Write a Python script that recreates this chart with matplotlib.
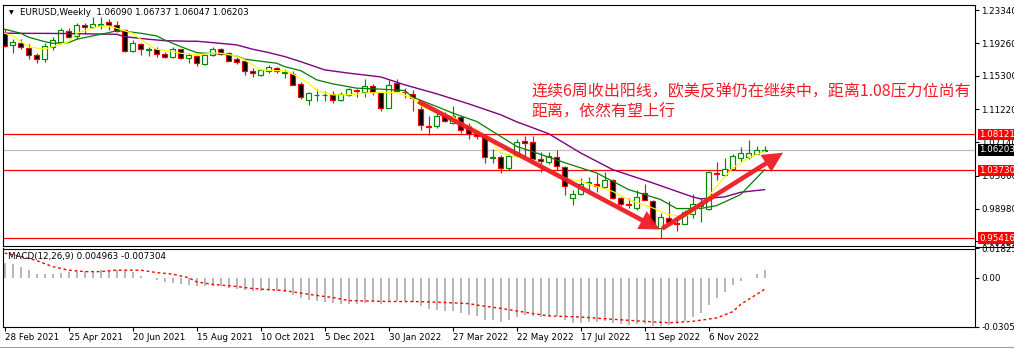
import matplotlib
matplotlib.use("Agg")
import matplotlib.pyplot as plt
from matplotlib.patches import Rectangle
from matplotlib.lines import Line2D

plt.rcParams['font.family'] = ['DejaVu Sans']

# weekly EURUSD candles, index 0 = week of 28 Feb 2021
opens = [1.2058, 1.1904, 1.1936, 1.1867, 1.1782, 1.1740, 1.1880, 1.1944, 1.2079, 1.2018,
         1.2152, 1.2124, 1.2156, 1.2189, 1.2148, 1.2091, 1.1834, 1.1920, 1.1847, 1.1855,
         1.1798, 1.1757, 1.1855, 1.1749, 1.1773, 1.1675, 1.1789, 1.1862, 1.1806, 1.1733,
         1.1708, 1.1593, 1.1537, 1.1586, 1.1626, 1.1569, 1.1553, 1.1431, 1.1227, 1.1293,
         1.1293, 1.1309, 1.1227, 1.1293, 1.1358, 1.1333, 1.1406, 1.1325, 1.1129, 1.1447,
         1.1333, 1.1309, 1.1122, 1.0909, 1.0909, 1.1048, 1.0950, 1.1024, 1.0917, 1.0811,
         1.0787, 1.0526, 1.0535, 1.0395, 1.0542, 1.0730, 1.0713, 1.0510, 1.0469, 1.0535,
         1.0413, 1.0037, 1.0086, 1.0217, 1.0200, 1.0168, 1.0257, 1.0029, 0.9964, 0.9906,
         1.0095, 0.9997, 0.9662, 0.9784, 0.9728, 0.9719, 0.9833, 0.9931, 0.9899, 1.0339,
         1.0315, 1.0388, 1.0526, 1.0535, 1.0575, 1.06090]
highs = [1.2100, 1.1977, 1.1977, 1.1920, 1.1814, 1.1936, 1.2002, 1.2115, 1.2115, 1.2173,
         1.2173, 1.2254, 1.2246, 1.2229, 1.2197, 1.2100, 1.1969, 1.1936, 1.1880, 1.1880,
         1.1822, 1.1880, 1.1862, 1.1806, 1.1789, 1.1798, 1.1887, 1.1871, 1.1822, 1.1757,
         1.1724, 1.1626, 1.1618, 1.1659, 1.1642, 1.1618, 1.1593, 1.1455, 1.1325, 1.1366,
         1.1342, 1.1349, 1.1333, 1.1382, 1.1373, 1.1488, 1.1431, 1.1333, 1.1480, 1.1495,
         1.1382, 1.1358, 1.1211, 1.1031, 1.1073, 1.1080, 1.1162, 1.1031, 1.0950, 1.0860,
         1.0811, 1.0633, 1.0559, 1.0567, 1.0755, 1.0787, 1.0787, 1.0600, 1.0591, 1.0616,
         1.0428, 1.0126, 1.0273, 1.0290, 1.0322, 1.0355, 1.0266, 1.0046, 1.0029, 1.0126,
         1.0208, 1.0013, 0.9850, 0.9997, 0.9784, 0.9882, 1.0086, 1.0029, 1.0364, 1.0477,
         1.0518, 1.0575, 1.0657, 1.0738, 1.0664, 1.06737]
lows = [1.1887, 1.1814, 1.1855, 1.1740, 1.1691, 1.1700, 1.1847, 1.1936, 1.1993, 1.1977,
        1.2042, 1.2115, 1.2107, 1.2091, 1.2067, 1.1822, 1.1822, 1.1789, 1.1773, 1.1757,
        1.1749, 1.1749, 1.1740, 1.1691, 1.1651, 1.1667, 1.1773, 1.1782, 1.1708, 1.1675,
        1.1545, 1.1513, 1.1529, 1.1562, 1.1569, 1.1504, 1.1415, 1.1244, 1.1170, 1.1219,
        1.1219, 1.1202, 1.1219, 1.1276, 1.1268, 1.1268, 1.1300, 1.1104, 1.1129, 1.1325,
        1.1260, 1.1097, 1.0869, 1.0804, 1.0893, 1.0966, 1.0933, 1.0828, 1.0755, 1.0755,
        1.0462, 1.0462, 1.0339, 1.0371, 1.0535, 1.0551, 1.0493, 1.0347, 1.0453, 1.0371,
        1.0070, 0.9948, 1.0070, 1.0135, 1.0111, 1.0151, 1.0021, 0.9939, 0.9906, 0.9882,
        1.0004, 0.9679, 0.9540, 0.9703, 0.9630, 0.9711, 0.9784, 0.9735, 0.9891, 1.0257,
        1.0298, 1.0371, 1.0477, 1.0510, 1.0567, 1.06047]
closes = [1.1895, 1.1944, 1.1887, 1.1782, 1.1740, 1.1895, 1.1969, 1.2091, 1.2002, 1.2156,
          1.2124, 1.2164, 1.2164, 1.2148, 1.2079, 1.1838, 1.1928, 1.1855, 1.1862, 1.1798,
          1.1765, 1.1855, 1.1749, 1.1782, 1.1684, 1.1789, 1.1862, 1.1798, 1.1716, 1.1700,
          1.1593, 1.1569, 1.1602, 1.1642, 1.1586, 1.1578, 1.1422, 1.1268, 1.1317, 1.1300,
          1.1300, 1.1227, 1.1309, 1.1373, 1.1342, 1.1406, 1.1325, 1.1129, 1.1422, 1.1349,
          1.1325, 1.1260, 1.0926, 1.0902, 1.1040, 1.0975, 1.1031, 1.0860, 1.0820, 1.0795,
          1.0535, 1.0535, 1.0395, 1.0542, 1.0713, 1.0706, 1.0510, 1.0486, 1.0551, 1.0428,
          1.0184, 1.0078, 1.0208, 1.0224, 1.0175, 1.0257, 1.0029, 0.9964, 0.9948, 1.0046,
          1.0013, 0.9719, 0.9801, 0.9744, 0.9711, 0.9866, 0.9964, 0.9948, 1.0355, 1.0322,
          1.0388, 1.0542, 1.0584, 1.0584, 1.0616, 1.06203]

# moving averages (bar index, price)
fast_idx = [0, 1, 3, 5, 6, 8, 9, 11, 12, 13, 14, 16, 17, 18, 19, 21, 22, 23, 24, 26, 27, 29, 30,
            31, 32, 34, 35, 36, 38, 39, 41, 43, 45, 47, 49, 51, 52, 54, 56, 57, 59, 61, 62, 64,
            66, 68, 70, 72, 74, 76, 78, 81, 83, 85, 87, 89, 91, 93, 95]
fast_ma = [1.2051, 1.2018, 1.1887, 1.1855, 1.1887, 1.1948, 1.2051, 1.2112, 1.2140, 1.2140,
           1.2112, 1.2051, 1.1977, 1.1908, 1.1855, 1.1826, 1.1806, 1.1798, 1.1785, 1.1806,
           1.1806, 1.1773, 1.1724, 1.1663, 1.1602, 1.1593, 1.1593, 1.1553, 1.1439, 1.1349,
           1.1296, 1.1296, 1.1317, 1.1325, 1.1325, 1.1256, 1.1162, 1.1073, 1.1031, 1.0958,
           1.0869, 1.0706, 1.0584, 1.0535, 1.0502, 1.0380, 1.0278, 1.0237, 1.0175, 1.0114,
           1.0013, 0.9911, 0.9829, 0.9801, 0.9931, 1.0175, 1.0400, 1.0523, 1.0603]
mid_idx = [0, 2, 3, 5, 6, 8, 9, 11, 13, 14, 15, 17, 19, 20, 22, 24, 25, 27, 29, 30, 32, 34,
           35, 37, 39, 41, 44, 47, 50, 51, 54, 56, 59, 61, 64, 66, 70, 74, 78, 82, 84, 87,
           89, 92, 95]
mid_ma = [1.2100, 1.2051, 1.2002, 1.1948, 1.1928, 1.1936, 1.1977, 1.2018, 1.2058, 1.2082,
          1.2075, 1.2051, 1.2018, 1.1969, 1.1887, 1.1814, 1.1806, 1.1798, 1.1773, 1.1733,
          1.1708, 1.1684, 1.1642, 1.1593, 1.1480, 1.1431, 1.1378, 1.1366, 1.1349, 1.1268,
          1.1153, 1.1073, 1.0970, 1.0848, 1.0664, 1.0600, 1.0465, 1.0339, 1.0135, 1.0013,
          0.9903, 0.9903, 0.9939, 1.0074, 1.0380]
slow_idx = [0, 7, 14, 15, 18, 20, 23, 24, 26, 29, 31, 33, 35, 37, 40, 43, 47, 50, 54, 58,
            62, 64, 68, 72, 76, 81, 84, 86, 87, 90, 92, 95]
slow_ma = [1.2051, 1.2048, 1.2038, 1.2009, 1.1977, 1.1960, 1.1953, 1.1953, 1.1936, 1.1908,
           1.1855, 1.1814, 1.1765, 1.1703, 1.1602, 1.1562, 1.1516, 1.1419, 1.1309, 1.1186,
           1.1052, 1.0966, 1.0820, 1.0584, 1.0380, 1.0217, 1.0114, 1.0046, 1.0021, 1.0046,
           1.0102, 1.0135]

# MACD(12,26,9): main values per bar and the signal line
macd = [0.0090, 0.0086, 0.0069, 0.0047, 0.0022, 0.0022, 0.0026, 0.0030, 0.0038, 0.0043,
        0.0043, 0.0043, 0.0047, 0.0051, 0.0047, 0.0047, 0.0035, 0.0013, 0.0001, -0.0017,
        -0.0029, -0.0034, -0.0042, -0.0047, -0.0055, -0.0055, -0.0051, -0.0051, -0.0064, -0.0068,
        -0.0077, -0.0085, -0.0085, -0.0081, -0.0085, -0.0090, -0.0106, -0.0128, -0.0141, -0.0145,
        -0.0149, -0.0160, -0.0162, -0.0162, -0.0162, -0.0156, -0.0149, -0.0162, -0.0149, -0.0143,
        -0.0143, -0.0149, -0.0175, -0.0194, -0.0201, -0.0207, -0.0207, -0.0220, -0.0233, -0.0239,
        -0.0265, -0.0265, -0.0278, -0.0265, -0.0246, -0.0233, -0.0239, -0.0246, -0.0239, -0.0239,
        -0.0265, -0.0284, -0.0284, -0.0278, -0.0278, -0.0271, -0.0284, -0.0290, -0.0297, -0.0290,
        -0.0290, -0.0303, -0.0305, -0.0297, -0.0290, -0.0271, -0.0246, -0.0220, -0.0169, -0.0130,
        -0.0092, -0.0047, -0.0021, -0.0002, 0.0024, 0.004963]
signal_idx = [0, 2, 4, 6, 8, 10, 12, 14, 17, 19, 21, 23, 24, 26, 29, 31, 33, 35, 37, 39, 41,
              43, 48, 51, 54, 58, 59, 62, 66, 68, 72, 76, 80, 83, 86, 89, 91, 92, 95]
signal = [0.0154, 0.0133, 0.0107, 0.0069, 0.0047, 0.0038, 0.0038, 0.0047, 0.0047, 0.0032,
          0.0022, 0.0000, -0.0026, -0.0042, -0.0055, -0.0068, -0.0074, -0.0081, -0.0096,
          -0.0111, -0.0124, -0.0143, -0.0149, -0.0149, -0.0153, -0.0162, -0.0171, -0.0192,
          -0.0224, -0.0239, -0.0246, -0.0260, -0.0273, -0.0282, -0.0273, -0.0252, -0.0213,
          -0.0167, -0.007304]

date_idx = [0, 8, 16, 24, 32, 40, 48, 56, 64, 72, 80, 88]
date_labels = ['28 Feb 2021', '25 Apr 2021', '20 Jun 2021', '15 Aug 2021', '10 Oct 2021',
               '5 Dec 2021', '30 Jan 2022', '27 Mar 2022', '22 May 2022', '17 Jul 2022',
               '11 Sep 2022', '6 Nov 2022']
price_ticks = [1.23340, 1.19260, 1.15300, 1.11220, 1.07140, 1.03060, 0.98980, 0.95020]
levels = [1.08121, 1.03730, 0.95416]
last_price = 1.06203

# hand-drawn arrows (start, tip) in bar index / price
arrow_down = ((51.7, 1.1215), (81.9, 0.9646))
arrow_up = ((82.2, 0.9658), (97.3, 1.0587))

note_line1 = '连续6周收出阳线，欧美反弹仍在继续中，距离1.08压力位尚有'
note_line2 = '距离，依然有望上行'

W, H = 1014, 350
fig = plt.figure(figsize=(W / 100, H / 100), dpi=100)


def px_rect(x0, y0, x1, y1):
    return [x0 / W, 1 - y1 / H, (x1 - x0) / W, (y1 - y0) / H]


ax = fig.add_axes(px_rect(3, 5, 975, 245.5))
mac = fig.add_axes(px_rect(3, 248.5, 975, 326.5))
xlim = (-0.21, 121.3)
fs = 6.3

# candles
body_w = 0.62
for i in range(len(opens)):
    o, h, l, c = opens[i], highs[i], lows[i], closes[i]
    up = c >= o
    col = '#008a00' if up else '#ff0000'
    ax.vlines(i, l, h, color=col, lw=0.85, zorder=2)
    ax.add_patch(Rectangle((i - body_w / 2, min(o, c)), body_w, max(abs(c - o), 0.0004),
                           facecolor='white' if up else 'black', edgecolor=col, lw=0.85,
                           zorder=2.1))

ax.plot(slow_idx, slow_ma, color='#800080', lw=1, zorder=3)
ax.plot(mid_idx, mid_ma, color='#008000', lw=0.9, zorder=3)
ax.plot(fast_idx, fast_ma, color='#ffff00', lw=0.9, zorder=3)

for lv in levels:
    ax.axhline(lv, color='#ff0000', lw=0.9, zorder=1.5)
ax.axhline(last_price, color='#c0c0c0', lw=0.9, zorder=1.5)

for start, tip in (arrow_down, arrow_up):
    ax.annotate('', xy=tip, xytext=start, annotation_clip=False, zorder=6,
                arrowprops=dict(arrowstyle='simple,head_length=1.45,head_width=1.45,tail_width=0.33',
                                mutation_scale=10, fc='#ee1c25', ec='none', alpha=0.95,
                                shrinkA=0, shrinkB=0))

ax.set_xlim(*xlim)
ax.set_ylim(0.9450, 1.2397)
ax.set_xticks([])
ax.yaxis.tick_right()
ax.set_yticks(price_ticks)
ax.set_yticklabels([f'{v:.5f}' for v in price_ticks])
ax.tick_params(axis='y', direction='out', length=3, width=0.8, pad=1.5, labelsize=fs)

ytr = ax.get_yaxis_transform()
for lv in levels:
    ax.text(1.0041, lv, f'{lv:.5f}', transform=ytr, color='white', fontsize=fs,
            va='center', ha='left', zorder=7,
            bbox=dict(boxstyle='square,pad=0.12', fc='#ff0000', ec='none'))
ax.text(1.0041, last_price, f'{last_price:.5f}', transform=ytr, color='white', fontsize=fs,
        va='center', ha='left', zorder=7,
        bbox=dict(boxstyle='square,pad=0.12', fc='black', ec='none'))

# MACD panel
mac.bar(range(len(macd)), macd, width=0.24, color='#b8b8b8', zorder=2)
mac.plot(signal_idx, signal, color='#ff0000', lw=1, ls=(0, (2, 2)), zorder=3)
mac.set_xlim(*xlim)
mac.set_ylim(-0.03053, 0.018254)
mac.yaxis.tick_right()
mac.set_yticks([0.018254, 0.0, -0.03053])
mac.set_yticklabels(['0.018254', '0.00', '-0.030530'])
mac.set_xticks(date_idx)
mac.set_xticklabels(date_labels, ha='left')
mac.tick_params(axis='both', direction='out', length=3, width=0.8, pad=1.5, labelsize=fs)

for a in (ax, mac):
    for s in a.spines.values():
        s.set_linewidth(0.8)
        s.set_color('black')

# headers
fig.text(9 / W, 1 - 12.5 / H, '▼', fontsize=4.5, va='center')
fig.text(20 / W, 1 - 12.5 / H, 'EURUSD,Weekly  1.06090 1.06737 1.06047 1.06203',
         fontsize=fs, va='center')
fig.text(8 / W, 1 - 256.5 / H, 'MACD(12,26,9) 0.004963 -0.007304', fontsize=fs, va='center')

# comment text
cn = ['Noto Sans CJK SC', 'DejaVu Sans']
fig.text(531 / W, 1 - 91.5 / H, note_line1, color='#f41c24', fontsize=11.5, family=cn,
         va='center', ha='left')
fig.text(531 / W, 1 - 112.5 / H, note_line2, color='#f41c24', fontsize=11.5, family=cn,
         va='center', ha='left')

# window separators
fig.add_artist(Line2D([975 / W, 1], [1 - 247 / H] * 2, color='black', lw=0.8))
fig.add_artist(Line2D([0, 1], [1 - 346.5 / H] * 2, color='#a0a0a0', lw=0.8))

fig.savefig('out.png', dpi=100)
